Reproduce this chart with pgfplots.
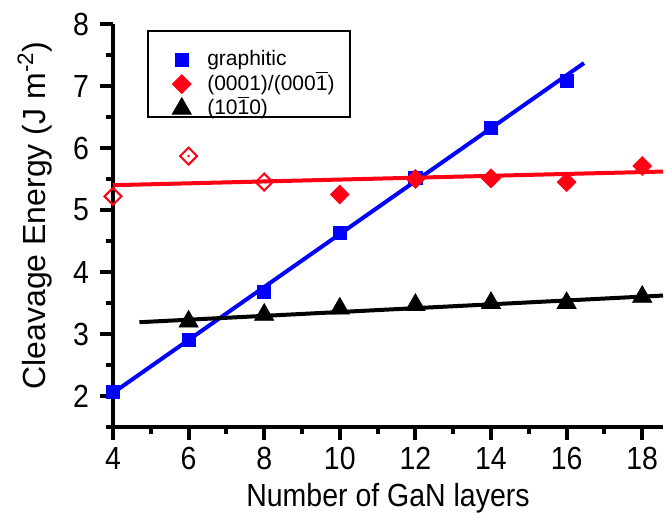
\documentclass[border=0pt]{standalone}
\usepackage{fontspec}
\setmainfont{Liberation Sans}
\newfontfamily\narrowfont{Liberation Sans}[FakeStretch=0.89]
\usepackage{pgfplots}
\pgfplotsset{compat=1.18}
\definecolor{myblue}{RGB}{0,0,255}
\definecolor{myred}{RGB}{255,0,20}
\newcommand{\ob}[1]{$\overline{\mbox{#1}}$}
\begin{document}
\begin{tikzpicture}
\begin{axis}[
  scale only axis,
  width=275pt, height=201.5pt,
  xmin=4, xmax=18.55, ymin=1.5, ymax=8,
  axis lines*=left,
  axis line style={line width=2pt},
  xtick={4,6,...,18}, minor xtick={5,7,...,17},
  ytick={2,...,8}, minor ytick={1.5,2.5,...,7.5},
  tick align=outside,
  major tick length=6.5pt, minor tick length=3.5pt,
  every tick/.style={black, line width=2pt},
  /pgf/number format/assume math mode=true,
  tick label style={font=\narrowfont\fontsize{16}{18}\selectfont},
  yticklabel style={xshift=-2pt},
  xlabel style={font=\narrowfont\fontsize{16}{18}\selectfont},
  xlabel={Number of GaN layers},
  every axis y label/.style={at={([xshift=-39pt]rel axis cs:0,0.525)}, anchor=center, rotate=90,
    font=\fontsize{16}{18}\selectfont},
  ylabel={Cleavage Energy (J m\textsuperscript{-2})},
  clip=false,
  legend style={draw=none, fill=none, at={(rel axis cs:0.107,0.9426)}, anchor=north west,
    font=\fontsize{10.5}{12}\selectfont, row sep=0.3pt, column sep=8pt, inner sep=0pt,
    nodes={inner sep=0pt, text height=9pt, text depth=3pt}},
  legend cell align=left,
]
% fit lines
\addplot[myblue, line width=2pt, forget plot] coordinates {(4,2.05) (16.46,7.37)};
\addplot[myred, line width=2pt, forget plot] coordinates {(4,5.40) (18.55,5.62)};
\addplot[black, line width=2pt, forget plot] coordinates {(4.70,3.19) (18.55,3.62)};
% data
\addplot[only marks, mark=square*, mark size=3.3pt, color=myblue] coordinates {
(4,2.07) (6,2.90) (8,3.68) (10,4.63) (12,5.52) (14,6.33) (16,7.08)};
\addlegendentry{graphitic}
\addplot[only marks, mark=square*, mark size=3.3pt, color=myred, every mark/.append style={rotate=45}] coordinates {
(10,5.25) (12,5.50) (14,5.51) (16,5.45) (18,5.71)};
\addlegendentry{(0001)/(000\ob{1})}
\addplot[only marks, mark=triangle*, mark size=5.5pt, color=black] coordinates {
(6,3.20) (8,3.31) (10,3.41) (12,3.47) (14,3.50) (16,3.50) (18,3.60)};
\addlegendentry{(10\ob{1}0)}
\addplot[only marks, mark=square, mark size=3pt, color=myred, line width=1pt, every mark/.append style={rotate=45}, forget plot] coordinates {
(4,5.22) (6,5.87) (8,5.45)};
\addplot[only marks, mark=*, mark size=0.4pt, color=myred, forget plot] coordinates {
(6,5.87) (8,5.45)};
\draw[line width=1pt] (rel axis cs:0.0636,0.9826) rectangle (rel axis cs:0.4309,0.769);
\coordinate (bl) at (rel axis cs:0,0);
\coordinate (tr) at (rel axis cs:1,1);
\end{axis}
\path[use as bounding box] ([shift={(-56.5pt,-45pt)}]bl) rectangle ([shift={(4pt,12pt)}]tr);
\end{tikzpicture}
\end{document}
